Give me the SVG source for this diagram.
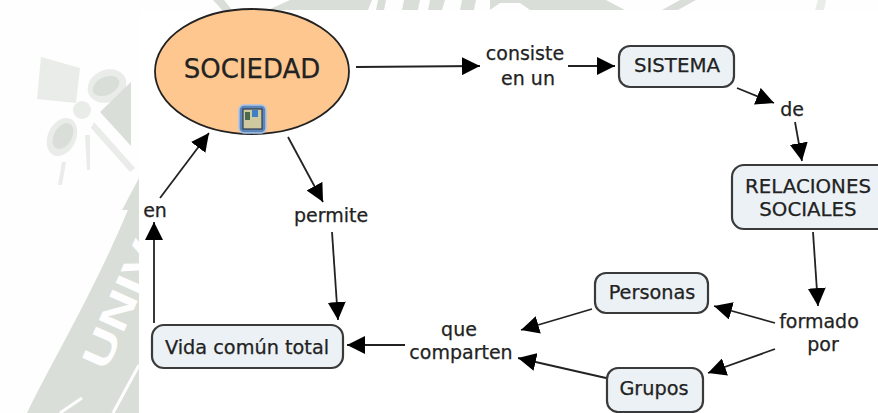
<svg xmlns="http://www.w3.org/2000/svg" width="878" height="413" viewBox="0 0 878 413">
<style>
text{font-family:"DejaVu Sans","Liberation Sans",sans-serif;fill:#222;stroke:#222;stroke-width:.25;text-anchor:middle}
.n{font-size:19.3px}
.l{font-size:19px}
.box{fill:#ebf1f4;stroke:#3a3a3a;stroke-width:2.2}
.c{fill:none;stroke:#222;stroke-width:1.8;marker-end:url(#a)}
.w1{fill:#d9dfd8}
.w2{fill:#e9ece8}
</style>
<defs>
<marker id="a" viewBox="0 0 18 18" refX="18" refY="9" markerWidth="18" markerHeight="18" markerUnits="userSpaceOnUse" orient="auto"><path d="M0 0L18 9L0 18Z" fill="#000"/></marker>
</defs>
<rect width="878" height="413" fill="#fefefe"/>
<g id="watermark">
<path class="w2" d="M41 57L80 68L76 103L37 99Z"/>
<ellipse class="w2" cx="82" cy="110" rx="9" ry="9"/>
<ellipse class="w2" cx="107" cy="86" rx="20" ry="16" transform="rotate(-25 107 86)"/>
<ellipse class="w1" cx="106" cy="86" rx="14" ry="9" transform="rotate(-25 106 86)"/>
<path class="w1" d="M131 82L131 146L100 112Z"/>
<ellipse class="w2" cx="62" cy="137" rx="14" ry="20" transform="rotate(25 62 137)"/>
<ellipse class="w1" cx="63" cy="136" rx="9" ry="14" transform="rotate(30 63 136)"/>
<path class="w2" d="M94 122L135 168L130 172L91 128Z"/>
<path class="w2" d="M85 135L90 135L90 170L87 170Z"/>
<path class="w2" d="M62 162L66 162L62 185L58 185Z"/>
<path class="w1" d="M139 178L139 210L122 210Z"/>
<path class="w1" d="M130 205L139 205L139 413L27 413C50 365 95 290 130 205Z"/>
<path d="M60 413L82 398M113 413L139 365" fill="none" stroke="#fefefe" stroke-width="3"/>
<text x="0" y="0" transform="translate(106 372) rotate(-66)" style="font-family:'Liberation Sans',sans-serif;font-weight:700;font-size:40px;fill:#fefefe;stroke:none;text-anchor:start" textLength="135" lengthAdjust="spacingAndGlyphs">UNIV</text>
<path class="w1" d="M213 0L224 0L232 10L222 10Z M268 10L290 0L372 0L368 10Z M378 0L386 0L384 10L376 10Z M404 0L420 0L418 10L402 10Z M430 0L445 0L442 10L428 10Z M462 0L476 0L474 10L460 10Z M490 0L606 0L625 10L530 10L520 3L500 3L490 10Z M662 10L680 0L696 0L678 10Z"/>
<path class="w2" d="M815 10L818 0L826 0L824 10Z"/>
<rect x="139" y="10" width="739" height="403" fill="#fff"/>
</g>
<g id="connectors">
<path class="c" d="M356 67L480 66"/>
<path class="c" d="M568 66L615 66"/>
<path class="c" d="M737 88L774 103"/>
<path class="c" d="M795 122L802 161"/>
<path class="c" d="M813 232L818 306"/>
<path class="c" d="M775 323L714 306"/>
<path class="c" d="M775 349L708 373"/>
<path class="c" d="M592 309L521 330"/>
<path class="c" d="M606 378L518 358"/>
<path class="c" d="M405 345L347 345"/>
<path class="c" d="M154 323L154 222"/>
<path class="c" d="M160 198L209 133"/>
<path class="c" d="M288 137L323 202"/>
<path class="c" d="M332 232L338 320"/>
</g>
<g id="sociedad">
<ellipse cx="252" cy="71.5" rx="97" ry="62.5" fill="#fdc78f" stroke="#222" stroke-width="1.8"/>
<text x="252" y="78" style="font-size:26px">SOCIEDAD</text>
<rect x="239" y="105" width="27" height="28" rx="5" fill="#5e86b8" stroke="#a9c6ea" stroke-width="1.5"/>
<rect x="243" y="109" width="19" height="20" fill="#cfc9a0" stroke="#2d3c50" stroke-width="1.2"/>
<rect x="252" y="110" width="6" height="7" fill="#3f7fc4"/>
<rect x="245" y="112" width="5" height="8" fill="#4a6a50"/>
</g>
<g id="consiste"><text class="l" x="525" y="60">consiste</text><text class="l" x="528" y="85">en un</text></g>
<g id="sistema"><rect class="box" x="619" y="46" width="115" height="41" rx="11"/><text x="677" y="72" style="font-size:19.8px">SISTEMA</text></g>
<g id="de"><text class="l" x="792" y="116">de</text></g>
<g id="relaciones"><rect class="box" x="732" y="165" width="160" height="64" rx="12"/><text x="808" y="193" style="font-size:19.8px">RELACIONES</text><text x="808" y="216" style="font-size:19.8px">SOCIALES</text></g>
<g id="formado"><text class="l" x="819" y="328">formado</text><text class="l" x="823" y="351">por</text></g>
<g id="personas"><rect class="box" x="595" y="273" width="113" height="40" rx="11"/><text class="n" x="652" y="299">Personas</text></g>
<g id="grupos"><rect class="box" x="607" y="368" width="96" height="44" rx="11"/><text class="n" x="654" y="395">Grupos</text></g>
<g id="que"><text class="l" x="459" y="336">que</text><text class="l" x="461" y="359">comparten</text></g>
<g id="vida"><rect class="box" x="152" y="325" width="191" height="43" rx="12"/><text class="n" x="247" y="354">Vida común total</text></g>
<g id="en"><text class="l" x="155" y="217">en</text></g>
<g id="permite"><text class="l" x="331" y="222">permite</text></g>
</svg>
